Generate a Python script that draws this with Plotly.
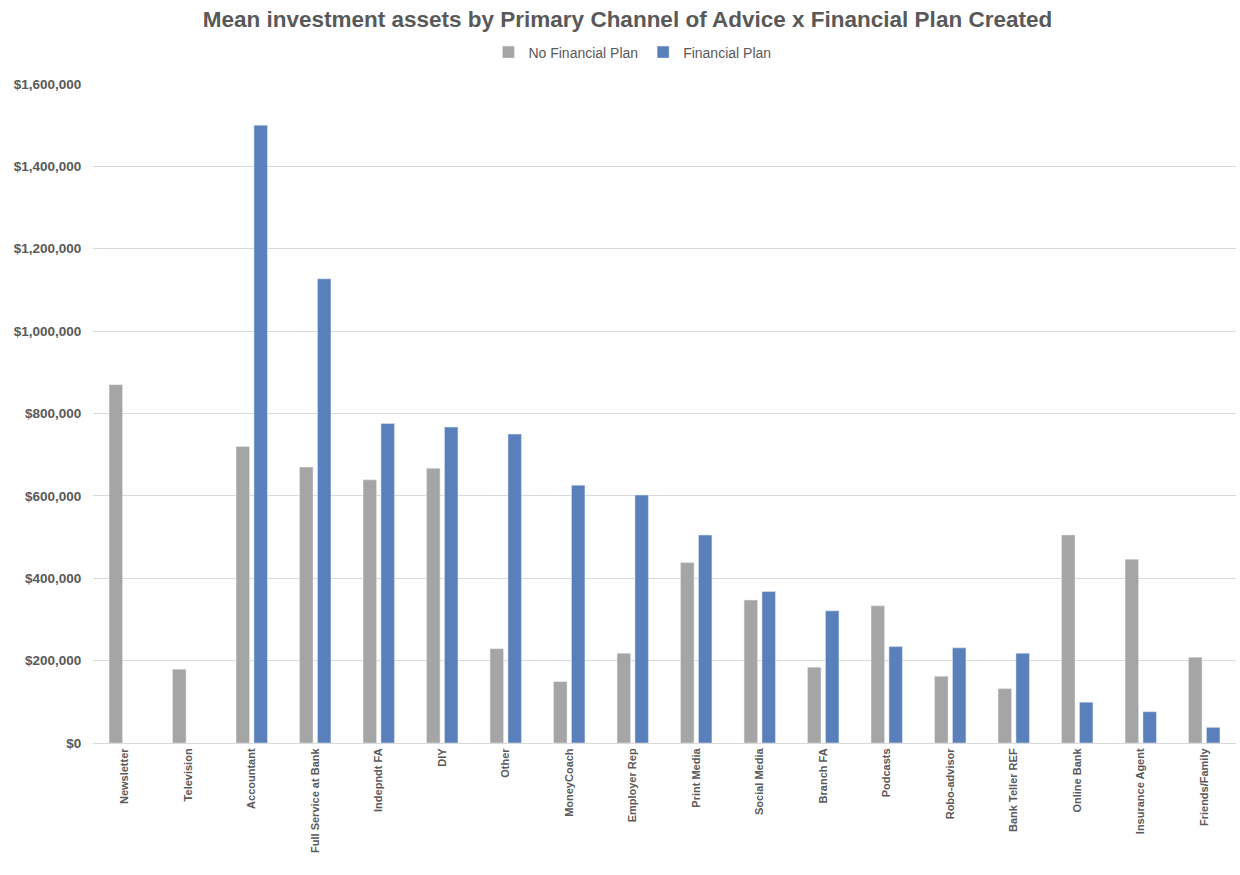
import plotly.graph_objects as go

# Primary channel of advice categories
channels = [
    "Newsletter", "Television", "Accountant", "Full Service at Bank", "Indepndt FA",
    "DIY", "Other", "MoneyCoach", "Employer Rep", "Print Media", "Social Media",
    "Branch FA", "Podcasts", "Robo-advisor", "Bank Teller REF", "Online Bank",
    "Insurance Agent", "Friends/Family",
]

# Mean investment assets (USD)
no_plan = [
    870000, 179000, 720000, 670000, 639000,
    667000, 229000, 149000, 218000, 438000, 347000,
    184000, 333000, 162000, 132000, 505000,
    446000, 208000,
]
with_plan = [
    None, None, 1500000, 1127000, 776000,
    767000, 750000, 626000, 602000, 505000, 368000,
    321000, 234000, 231000, 218000, 99000,
    76000, 38000,
]

y_ticks = [0, 200000, 400000, 600000, 800000, 1000000, 1200000, 1400000, 1600000]
y_tick_text = ["${:,}".format(v) for v in y_ticks]

GRAY = "#A5A5A5"
BLUE = "#5A80BC"
TEXT = "#595959"

fig = go.Figure()
fig.add_trace(go.Bar(name="No Financial Plan", x=channels, y=no_plan, marker_color=GRAY))
fig.add_trace(go.Bar(name="Financial Plan", x=channels, y=with_plan, marker_color=BLUE))

fig.update_layout(
    width=1240,
    height=875,
    paper_bgcolor="white",
    plot_bgcolor="white",
    barmode="group",
    bargap=0.436,
    bargroupgap=0.246,
    margin=dict(l=93, r=4, t=84, b=132),
    title=dict(
        text="<b>Mean investment assets by Primary Channel of Advice x Financial Plan Created</b>",
        font=dict(family="Liberation Sans, Arial, sans-serif", size=22.5, color=TEXT),
        x=0.506, xanchor="center", xref="container",
        y=0.978, yanchor="middle", yref="container",
    ),
    legend=dict(
        orientation="h",
        x=0.51, xanchor="center", xref="container",
        y=0.94, yanchor="middle", yref="container",
        font=dict(family="Liberation Sans Narrow, Liberation Sans, sans-serif", size=14, color=TEXT),
        itemwidth=30,
        traceorder="normal",
    ),
    font=dict(family="Liberation Sans, Arial, sans-serif", color=TEXT),
)

fig.update_xaxes(
    tickangle=-90,
    tickfont=dict(family="Liberation Sans, Arial, sans-serif", size=11, color=TEXT, weight="bold"),
    showline=True, linecolor="#D9D9D9", linewidth=1,
    ticks="", showgrid=False,
)
fig.update_yaxes(
    range=[0, 1600000],
    tickvals=y_ticks,
    ticktext=y_tick_text,
    tickfont=dict(family="Liberation Sans, Arial, sans-serif", size=13.5, color=TEXT, weight="bold"),
    showgrid=True, gridcolor="#D9D9D9", gridwidth=1,
    zeroline=False, showline=False,
    ticks="outside", ticklen=8, tickcolor="white",
)

fig.write_html("out.html")
